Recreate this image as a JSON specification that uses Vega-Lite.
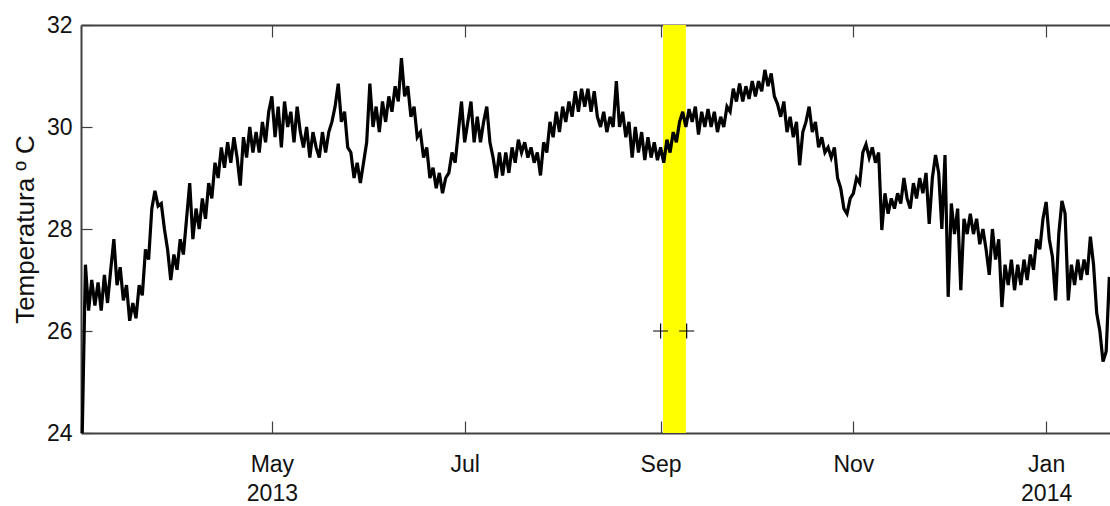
{
  "$schema": "https://vega.github.io/schema/vega-lite/v6.json",
  "width": 1029,
  "height": 408,
  "autosize": {"type": "none"},
  "padding": {"left": 81, "top": 25, "right": 0, "bottom": 73},
  "background": "white",
  "config": {"view": {"stroke": null}, "font": "Liberation Sans"},
  "datasets": {
    "band": [{"start": "2013-09-01T19:00:00Z", "end": "2013-09-09T00:00:00Z", "lo": 24, "hi": 32}],
    "marks": [{"t": "2013-09-01T00:00:00Z", "v": 26}, {"t": "2013-09-09T06:00:00Z", "v": 26}],
    "series": [
      {"t":"2013-03-02","v":24.0},{"t":"2013-03-03","v":27.3},{"t":"2013-03-04","v":26.4},{"t":"2013-03-05","v":27.0},{"t":"2013-03-06","v":26.5},{"t":"2013-03-07","v":26.95},{"t":"2013-03-08","v":26.4},{"t":"2013-03-09","v":27.1},{"t":"2013-03-10","v":26.55},{"t":"2013-03-11","v":27.2},{"t":"2013-03-12","v":27.8},{"t":"2013-03-13","v":26.9},{"t":"2013-03-14","v":27.25},{"t":"2013-03-15","v":26.6},{"t":"2013-03-16","v":26.9},{"t":"2013-03-17","v":26.2},{"t":"2013-03-18","v":26.55},{"t":"2013-03-19","v":26.25},{"t":"2013-03-20","v":26.9},{"t":"2013-03-21","v":26.7},{"t":"2013-03-22","v":27.6},{"t":"2013-03-23","v":27.4},{"t":"2013-03-24","v":28.4},{"t":"2013-03-25","v":28.75},{"t":"2013-03-26","v":28.45},{"t":"2013-03-27","v":28.5},{"t":"2013-03-28","v":28.0},{"t":"2013-03-29","v":27.6},{"t":"2013-03-30","v":27.0},{"t":"2013-03-31","v":27.5},
      {"t":"2013-04-01","v":27.2},{"t":"2013-04-02","v":27.8},{"t":"2013-04-03","v":27.5},{"t":"2013-04-04","v":28.2},{"t":"2013-04-05","v":28.9},{"t":"2013-04-06","v":27.8},{"t":"2013-04-07","v":28.4},{"t":"2013-04-08","v":28.0},{"t":"2013-04-09","v":28.6},{"t":"2013-04-10","v":28.2},{"t":"2013-04-11","v":28.9},{"t":"2013-04-12","v":28.6},{"t":"2013-04-13","v":29.3},{"t":"2013-04-14","v":29.0},{"t":"2013-04-15","v":29.6},{"t":"2013-04-16","v":29.2},{"t":"2013-04-17","v":29.7},{"t":"2013-04-18","v":29.3},{"t":"2013-04-19","v":29.8},{"t":"2013-04-20","v":29.4},{"t":"2013-04-21","v":28.85},{"t":"2013-04-22","v":29.8},{"t":"2013-04-23","v":29.4},{"t":"2013-04-24","v":30.0},{"t":"2013-04-25","v":29.5},{"t":"2013-04-26","v":29.9},{"t":"2013-04-27","v":29.5},{"t":"2013-04-28","v":30.1},{"t":"2013-04-29","v":29.7},{"t":"2013-04-30","v":30.3},
      {"t":"2013-05-01","v":30.6},{"t":"2013-05-02","v":29.8},{"t":"2013-05-03","v":30.4},{"t":"2013-05-04","v":29.6},{"t":"2013-05-05","v":30.5},{"t":"2013-05-06","v":30.0},{"t":"2013-05-07","v":30.3},{"t":"2013-05-08","v":29.7},{"t":"2013-05-09","v":30.4},{"t":"2013-05-10","v":29.9},{"t":"2013-05-11","v":29.6},{"t":"2013-05-12","v":30.0},{"t":"2013-05-13","v":29.4},{"t":"2013-05-14","v":29.9},{"t":"2013-05-15","v":29.6},{"t":"2013-05-16","v":29.4},{"t":"2013-05-17","v":29.9},{"t":"2013-05-18","v":29.5},{"t":"2013-05-19","v":29.9},{"t":"2013-05-20","v":30.1},{"t":"2013-05-21","v":30.4},{"t":"2013-05-22","v":30.85},{"t":"2013-05-23","v":30.1},{"t":"2013-05-24","v":30.3},{"t":"2013-05-25","v":29.6},{"t":"2013-05-26","v":29.5},{"t":"2013-05-27","v":29.0},{"t":"2013-05-28","v":29.3},{"t":"2013-05-29","v":28.9},{"t":"2013-05-30","v":29.3},{"t":"2013-05-31","v":29.7},
      {"t":"2013-06-01","v":30.85},{"t":"2013-06-02","v":30.0},{"t":"2013-06-03","v":30.4},{"t":"2013-06-04","v":29.9},{"t":"2013-06-05","v":30.5},{"t":"2013-06-06","v":30.1},{"t":"2013-06-07","v":30.6},{"t":"2013-06-08","v":30.3},{"t":"2013-06-09","v":30.8},{"t":"2013-06-10","v":30.5},{"t":"2013-06-11","v":31.35},{"t":"2013-06-12","v":30.6},{"t":"2013-06-13","v":30.8},{"t":"2013-06-14","v":30.2},{"t":"2013-06-15","v":30.4},{"t":"2013-06-16","v":29.8},{"t":"2013-06-17","v":29.9},{"t":"2013-06-18","v":29.4},{"t":"2013-06-19","v":29.6},{"t":"2013-06-20","v":29.0},{"t":"2013-06-21","v":29.2},{"t":"2013-06-22","v":28.8},{"t":"2013-06-23","v":29.1},{"t":"2013-06-24","v":28.7},{"t":"2013-06-25","v":29.0},{"t":"2013-06-26","v":29.1},{"t":"2013-06-27","v":29.5},{"t":"2013-06-28","v":29.3},{"t":"2013-06-29","v":29.9},{"t":"2013-06-30","v":30.5},
      {"t":"2013-07-01","v":29.7},{"t":"2013-07-02","v":30.1},{"t":"2013-07-03","v":30.5},{"t":"2013-07-04","v":29.7},{"t":"2013-07-05","v":30.2},{"t":"2013-07-06","v":29.7},{"t":"2013-07-07","v":30.1},{"t":"2013-07-08","v":30.4},{"t":"2013-07-09","v":29.7},{"t":"2013-07-10","v":29.4},{"t":"2013-07-11","v":29.0},{"t":"2013-07-12","v":29.5},{"t":"2013-07-13","v":29.05},{"t":"2013-07-14","v":29.5},{"t":"2013-07-15","v":29.1},{"t":"2013-07-16","v":29.6},{"t":"2013-07-17","v":29.3},{"t":"2013-07-18","v":29.75},{"t":"2013-07-19","v":29.5},{"t":"2013-07-20","v":29.7},{"t":"2013-07-21","v":29.4},{"t":"2013-07-22","v":29.6},{"t":"2013-07-23","v":29.3},{"t":"2013-07-24","v":29.5},{"t":"2013-07-25","v":29.05},{"t":"2013-07-26","v":29.7},{"t":"2013-07-27","v":29.5},{"t":"2013-07-28","v":30.1},{"t":"2013-07-29","v":29.8},{"t":"2013-07-30","v":30.3},{"t":"2013-07-31","v":29.9},
      {"t":"2013-08-01","v":30.4},{"t":"2013-08-02","v":30.1},{"t":"2013-08-03","v":30.5},{"t":"2013-08-04","v":30.2},{"t":"2013-08-05","v":30.7},{"t":"2013-08-06","v":30.3},{"t":"2013-08-07","v":30.75},{"t":"2013-08-08","v":30.4},{"t":"2013-08-09","v":30.75},{"t":"2013-08-10","v":30.3},{"t":"2013-08-11","v":30.7},{"t":"2013-08-12","v":30.2},{"t":"2013-08-13","v":30.0},{"t":"2013-08-14","v":30.3},{"t":"2013-08-15","v":29.9},{"t":"2013-08-16","v":30.2},{"t":"2013-08-17","v":30.0},{"t":"2013-08-18","v":30.9},{"t":"2013-08-19","v":30.0},{"t":"2013-08-20","v":30.3},{"t":"2013-08-21","v":29.8},{"t":"2013-08-22","v":30.1},{"t":"2013-08-23","v":29.4},{"t":"2013-08-24","v":30.0},{"t":"2013-08-25","v":29.5},{"t":"2013-08-26","v":29.9},{"t":"2013-08-27","v":29.35},{"t":"2013-08-28","v":29.8},{"t":"2013-08-29","v":29.4},{"t":"2013-08-30","v":29.7},{"t":"2013-08-31","v":29.35},
      {"t":"2013-09-01","v":29.6},{"t":"2013-09-02","v":29.3},{"t":"2013-09-03","v":29.75},{"t":"2013-09-04","v":29.5},{"t":"2013-09-05","v":29.9},{"t":"2013-09-06","v":29.7},{"t":"2013-09-07","v":30.1},{"t":"2013-09-08","v":30.3},{"t":"2013-09-09","v":30.0},{"t":"2013-09-10","v":30.35},{"t":"2013-09-11","v":30.1},{"t":"2013-09-12","v":30.4},{"t":"2013-09-13","v":29.85},{"t":"2013-09-14","v":30.3},{"t":"2013-09-15","v":30.0},{"t":"2013-09-16","v":30.35},{"t":"2013-09-17","v":30.0},{"t":"2013-09-18","v":30.3},{"t":"2013-09-19","v":29.9},{"t":"2013-09-20","v":30.2},{"t":"2013-09-21","v":30.0},{"t":"2013-09-22","v":30.4},{"t":"2013-09-23","v":30.3},{"t":"2013-09-24","v":30.75},{"t":"2013-09-25","v":30.5},{"t":"2013-09-26","v":30.85},{"t":"2013-09-27","v":30.5},{"t":"2013-09-28","v":30.8},{"t":"2013-09-29","v":30.55},{"t":"2013-09-30","v":30.9},
      {"t":"2013-10-01","v":30.6},{"t":"2013-10-02","v":30.9},{"t":"2013-10-03","v":30.7},{"t":"2013-10-04","v":31.12},{"t":"2013-10-05","v":30.8},{"t":"2013-10-06","v":31.05},{"t":"2013-10-07","v":30.6},{"t":"2013-10-08","v":30.45},{"t":"2013-10-09","v":30.2},{"t":"2013-10-10","v":30.5},{"t":"2013-10-11","v":29.9},{"t":"2013-10-12","v":30.2},{"t":"2013-10-13","v":29.8},{"t":"2013-10-14","v":30.1},{"t":"2013-10-15","v":29.25},{"t":"2013-10-16","v":29.9},{"t":"2013-10-17","v":30.1},{"t":"2013-10-18","v":30.4},{"t":"2013-10-19","v":29.9},{"t":"2013-10-20","v":30.1},{"t":"2013-10-21","v":29.6},{"t":"2013-10-22","v":29.8},{"t":"2013-10-23","v":29.5},{"t":"2013-10-24","v":29.6},{"t":"2013-10-25","v":29.4},{"t":"2013-10-26","v":29.6},{"t":"2013-10-27","v":29.0},{"t":"2013-10-28","v":28.8},{"t":"2013-10-29","v":28.4},{"t":"2013-10-30","v":28.3},{"t":"2013-10-31","v":28.6},
      {"t":"2013-11-01","v":28.7},{"t":"2013-11-02","v":29.0},{"t":"2013-11-03","v":28.9},{"t":"2013-11-04","v":29.5},{"t":"2013-11-05","v":29.66},{"t":"2013-11-06","v":29.4},{"t":"2013-11-07","v":29.6},{"t":"2013-11-08","v":29.3},{"t":"2013-11-09","v":29.5},{"t":"2013-11-10","v":27.98},{"t":"2013-11-11","v":28.7},{"t":"2013-11-12","v":28.3},{"t":"2013-11-13","v":28.6},{"t":"2013-11-14","v":28.4},{"t":"2013-11-15","v":28.7},{"t":"2013-11-16","v":28.5},{"t":"2013-11-17","v":29.0},{"t":"2013-11-18","v":28.6},{"t":"2013-11-19","v":28.4},{"t":"2013-11-20","v":28.9},{"t":"2013-11-21","v":28.6},{"t":"2013-11-22","v":29.0},{"t":"2013-11-23","v":28.7},{"t":"2013-11-24","v":29.1},{"t":"2013-11-25","v":28.1},{"t":"2013-11-26","v":29.0},{"t":"2013-11-27","v":29.45},{"t":"2013-11-28","v":29.1},{"t":"2013-11-29","v":28.0},{"t":"2013-11-30","v":29.45},
      {"t":"2013-12-01","v":26.67},{"t":"2013-12-02","v":28.5},{"t":"2013-12-03","v":27.9},{"t":"2013-12-04","v":28.4},{"t":"2013-12-05","v":26.8},{"t":"2013-12-06","v":28.2},{"t":"2013-12-07","v":27.9},{"t":"2013-12-08","v":28.3},{"t":"2013-12-09","v":27.9},{"t":"2013-12-10","v":28.2},{"t":"2013-12-11","v":27.7},{"t":"2013-12-12","v":28.0},{"t":"2013-12-13","v":27.6},{"t":"2013-12-14","v":27.1},{"t":"2013-12-15","v":28.0},{"t":"2013-12-16","v":27.4},{"t":"2013-12-17","v":27.8},{"t":"2013-12-18","v":26.47},{"t":"2013-12-19","v":27.3},{"t":"2013-12-20","v":26.9},{"t":"2013-12-21","v":27.4},{"t":"2013-12-22","v":26.8},{"t":"2013-12-23","v":27.3},{"t":"2013-12-24","v":26.9},{"t":"2013-12-25","v":27.4},{"t":"2013-12-26","v":27.0},{"t":"2013-12-27","v":27.5},{"t":"2013-12-28","v":27.2},{"t":"2013-12-29","v":27.8},{"t":"2013-12-30","v":27.6},{"t":"2013-12-31","v":28.2},
      {"t":"2014-01-01","v":28.53},{"t":"2014-01-02","v":27.8},{"t":"2014-01-03","v":27.45},{"t":"2014-01-04","v":26.6},{"t":"2014-01-05","v":27.9},{"t":"2014-01-06","v":28.55},{"t":"2014-01-07","v":28.3},{"t":"2014-01-08","v":26.6},{"t":"2014-01-09","v":27.3},{"t":"2014-01-10","v":26.9},{"t":"2014-01-11","v":27.4},{"t":"2014-01-12","v":27.0},{"t":"2014-01-13","v":27.4},{"t":"2014-01-14","v":27.1},{"t":"2014-01-15","v":27.85},{"t":"2014-01-16","v":27.3},{"t":"2014-01-17","v":26.35},{"t":"2014-01-18","v":26.0},{"t":"2014-01-19","v":25.4},{"t":"2014-01-20","v":25.6},{"t":"2014-01-21","v":27.06}
    ]
  },
  "layer": [
    {
      "data": {"name": "band"},
      "mark": {"type": "rect", "fill": "#FFFF00"},
      "encoding": {
        "x": {
          "field": "start", "type": "temporal",
          "scale": {"type": "utc", "domain": [{"year": 2013, "month": 3, "date": 1, "hours": 14, "minutes": 24, "utc": true}, {"year": 2014, "month": 1, "date": 21, "hours": 5, "utc": true}]},
          "axis": {
            "orient": "top", "labels": false, "title": null, "grid": false,
            "values": [{"year": 2013, "month": 5, "date": 1, "utc": true}, {"year": 2013, "month": 7, "date": 1, "utc": true}, {"year": 2013, "month": 9, "date": 1, "utc": true}, {"year": 2013, "month": 11, "date": 1, "utc": true}, {"year": 2014, "month": 1, "date": 1, "utc": true}],
            "tickSize": -12, "tickColor": "#404040", "tickWidth": 1.2,
            "domainColor": "#404040", "domainWidth": 2
          }
        },
        "x2": {"field": "end"},
        "y": {
          "field": "lo", "type": "quantitative",
          "scale": {"domain": [24, 32], "nice": false, "zero": false},
          "axis": {
            "values": [24, 26, 28, 30, 32], "grid": false,
            "tickSize": -11, "tickColor": "#404040", "tickWidth": 1.2,
            "domainColor": "#404040", "domainWidth": 2,
            "labelFontSize": 23, "labelColor": "#111", "labelPadding": 20,
            "title": "Temperatura º C", "titleFontSize": 26, "titleFontWeight": "normal", "titleColor": "#111", "titlePadding": 8
          }
        },
        "y2": {"field": "hi"}
      }
    },
    {
      "data": {"name": "series"},
      "mark": {"type": "line", "color": "#000000", "strokeWidth": 3.2},
      "encoding": {
        "x": {
          "field": "t", "type": "temporal",
          "scale": {"type": "utc", "domain": [{"year": 2013, "month": 3, "date": 1, "hours": 14, "minutes": 24, "utc": true}, {"year": 2014, "month": 1, "date": 21, "hours": 5, "utc": true}]},
          "axis": {
            "orient": "bottom", "title": null, "grid": false,
            "values": [{"year": 2013, "month": 5, "date": 1, "utc": true}, {"year": 2013, "month": 7, "date": 1, "utc": true}, {"year": 2013, "month": 9, "date": 1, "utc": true}, {"year": 2013, "month": 11, "date": 1, "utc": true}, {"year": 2014, "month": 1, "date": 1, "utc": true}],
            "labelExpr": "(utcmonth(datum.value) == 4 || utcmonth(datum.value) == 0) ? [utcFormat(datum.value, '%b'), utcFormat(datum.value, '%Y')] : utcFormat(datum.value, '%b')",
            "tickSize": -12, "tickColor": "#404040", "tickWidth": 1.2,
            "domainColor": "#404040", "domainWidth": 2,
            "labelFontSize": 23, "labelColor": "#111", "labelPadding": 32, "labelLineHeight": 29
          }
        },
        "y": {"field": "v", "type": "quantitative", "scale": {"domain": [24, 32], "nice": false, "zero": false}}
      }
    },
    {
      "data": {"name": "marks"},
      "mark": {"type": "point", "shape": "M-1,0H1M0,-1V1", "size": 225, "filled": false, "stroke": "#000000", "strokeWidth": 1.2, "opacity": 1},
      "encoding": {
        "x": {"field": "t", "type": "temporal", "axis": null},
        "y": {"field": "v", "type": "quantitative"}
      }
    }
  ],
  "resolve": {"axis": {"x": "independent"}}
}
